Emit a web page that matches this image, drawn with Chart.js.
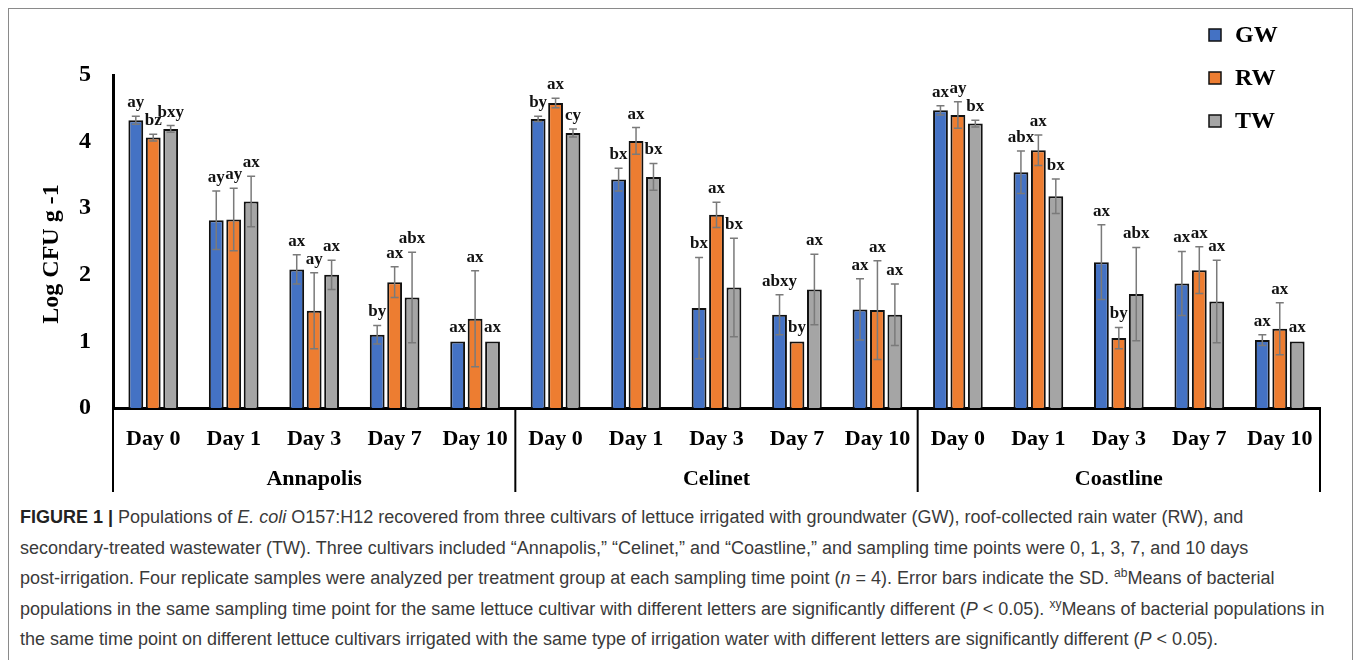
<!DOCTYPE html>
<html>
<head>
<meta charset="utf-8">
<script src="https://cdn.jsdelivr.net/npm/chart.js@4.4.1/dist/chart.umd.min.js"></script>
<style>
  body { margin: 0; background: #fff; width: 1358px; height: 660px; overflow: hidden; position: relative; }
  #frame { position: absolute; left: 8px; top: 8px; width: 1345px; height: 700px; border: 1.5px solid #8a8a8a; box-sizing: border-box; }
  #wrap { position: absolute; left: 0; top: 0; width: 1358px; height: 500px; }
  #caption { position: absolute; left: 20px; top: 502px; font-family: "Liberation Sans", Arial, sans-serif; font-size: 18px; line-height: 30.5px; color: #3a3a3a; white-space: nowrap; }
  #caption b { color: #222; }
  #caption sup { font-size: 12px; line-height: 0; }
</style>
</head>
<body>
<div id="frame"></div>
<div id="wrap"><canvas id="bacteriaChart"></canvas></div>
<div id="caption">
<b>FIGURE 1 |</b> Populations of <i>E. coli</i> O157:H12 recovered from three cultivars of lettuce irrigated with groundwater (GW), roof-collected rain water (RW), and<br>
secondary-treated wastewater (TW). Three cultivars included “Annapolis,” “Celinet,” and “Coastline,” and sampling time points were 0, 1, 3, 7, and 10 days<br>
post-irrigation. Four replicate samples were analyzed per treatment group at each sampling time point (<i>n</i> = 4). Error bars indicate the SD. <sup>ab</sup>Means of bacterial<br>
populations in the same sampling time point for the same lettuce cultivar with different letters are significantly different (<i>P</i> &lt; 0.05). <sup>xy</sup>Means of bacterial populations in<br>
the same time point on different lettuce cultivars irrigated with the same type of irrigation water with different letters are significantly different (<i>P</i> &lt; 0.05).
</div>
<script>
const days = ['Day 0', 'Day 1', 'Day 3', 'Day 7', 'Day 10'];
const cultivars = ['Annapolis', 'Celinet', 'Coastline'];

// means and SD, order: Annapolis d0..d10, Celinet d0..d10, Coastline d0..d10
const gwMeans = [4.32, 2.82, 2.08, 1.10, 1.00, 4.34, 3.43, 1.50, 1.40, 1.48, 4.47, 3.54, 2.19, 1.87, 1.02];
const gwSD    = [0.06, 0.44, 0.22, 0.14, 0.00, 0.04, 0.17, 0.76, 0.30, 0.46, 0.07, 0.32, 0.56, 0.48, 0.08];
const rwMeans = [4.06, 2.83, 1.46, 1.89, 1.34, 4.58, 4.01, 2.90, 1.00, 1.47, 4.40, 3.87, 1.05, 2.07, 1.19];
const rwSD    = [0.05, 0.47, 0.57, 0.23, 0.72, 0.07, 0.20, 0.19, 0.00, 0.74, 0.20, 0.23, 0.16, 0.35, 0.39];
const twMeans = [4.19, 3.10, 2.00, 1.66, 1.00, 4.13, 3.47, 1.81, 1.78, 1.40, 4.27, 3.18, 1.71, 1.60, 1.00];
const twSD    = [0.05, 0.38, 0.22, 0.68, 0.00, 0.06, 0.20, 0.74, 0.53, 0.46, 0.05, 0.26, 0.70, 0.62, 0.00];

const gwLetters = ['ay', 'ay', 'ax', 'by', 'ax', 'by', 'bx', 'bx', 'abxy', 'ax', 'ax', 'abx', 'ax', 'ax', 'ax'];
const rwLetters = ['bz', 'ay', 'ay', 'ax', 'ax', 'ax', 'ax', 'ax', 'by', 'ax', 'ay', 'ax', 'by', 'ax', 'ax'];
const twLetters = ['bxy', 'ax', 'ax', 'abx', 'ax', 'cy', 'bx', 'bx', 'ax', 'ax', 'bx', 'bx', 'abx', 'ax', 'ax'];

const yTicks = [0, 1, 2, 3, 4, 5];

const labels = [];
cultivars.forEach(() => days.forEach(d => labels.push(d)));

const serif = '"Liberation Serif", "Times New Roman", serif';

// error bars, significance letters, group labels, legend
const errorBarPlugin = {
    id: 'errorBars',
    afterDatasetsDraw(chart) {
        const ctx = chart.ctx;
        const yScale = chart.scales.y;
        chart.data.datasets.forEach((ds, i) => {
            const meta = chart.getDatasetMeta(i);
            meta.data.forEach((bar, j) => {
                const m = ds.data[j];
                const sd = ds.sd[j];
                const top = yScale.getPixelForValue(m + sd);
                const bot = yScale.getPixelForValue(m - sd);
                ctx.save();
                if (sd > 0) {
                    ctx.strokeStyle = '#7a7a7a';
                    ctx.lineWidth = 1.5;
                    ctx.beginPath();
                    ctx.moveTo(bar.x, top); ctx.lineTo(bar.x, bot);
                    ctx.moveTo(bar.x - 4, top); ctx.lineTo(bar.x + 4, top);
                    ctx.moveTo(bar.x - 4, bot); ctx.lineTo(bar.x + 4, bot);
                    ctx.stroke();
                }
                ctx.fillStyle = '#111';
                ctx.font = 'bold 17px ' + serif;
                ctx.textAlign = 'center';
                ctx.textBaseline = 'bottom';
                ctx.fillText(ds.letters[j], bar.x, Math.min(top, bar.y) - 5);
                ctx.restore();
            });
        });
    },
    afterDraw(chart) {
        const ctx = chart.ctx;
        const area = chart.chartArea;
        const xScale = chart.scales.x;
        const n = days.length;
        ctx.save();
        ctx.strokeStyle = '#000';
        ctx.lineWidth = 2;
        for (let g = 0; g <= cultivars.length; g++) {
            const x = area.left + (area.right - area.left) * g / cultivars.length;
            ctx.beginPath();
            ctx.moveTo(x, area.bottom); ctx.lineTo(x, area.bottom + 84);
            ctx.stroke();
        }
        ctx.fillStyle = '#000';
        ctx.font = 'bold 22px ' + serif;
        ctx.textAlign = 'center';
        ctx.textBaseline = 'middle';
        cultivars.forEach((c, g) => {
            const x0 = xScale.getPixelForValue(g * n);
            const x1 = xScale.getPixelForValue(g * n + n - 1);
            ctx.fillText(c, (x0 + x1) / 2, area.bottom + 71);
        });
        // y title
        ctx.save();
        ctx.translate(52, 254);
        ctx.rotate(-Math.PI / 2);
        ctx.font = 'bold 24px ' + serif;
        ctx.fillText('Log CFU g -1', 0, 0);
        ctx.restore();
        // legend
        ctx.font = 'bold 24px ' + serif;
        ctx.textAlign = 'left';
        chart.data.datasets.forEach((ds, i) => {
            const cy = 35 + i * 43;
            ctx.fillStyle = ds.backgroundColor;
            ctx.fillRect(1209, cy - 6, 12, 12);
            ctx.strokeStyle = '#111';
            ctx.lineWidth = 1.5;
            ctx.strokeRect(1209, cy - 6, 12, 12);
            ctx.fillStyle = '#000';
            ctx.fillText(ds.label, 1235, cy + 1);
        });
        ctx.restore();
    }
};

function makeSet(label, means, sd, letters, color) {
    return {
        label: label,
        data: means,
        sd: sd,
        letters: letters,
        backgroundColor: color,
        borderColor: '#111',
        borderWidth: 2,
        borderSkipped: 'bottom',
        categoryPercentage: 0.65,
        barPercentage: 0.85
    };
}

new Chart(document.getElementById('bacteriaChart').getContext('2d'), {
    type: 'bar',
    data: {
        labels: labels,
        datasets: [
            makeSet('GW', gwMeans, gwSD, gwLetters, '#4472C4'),
            makeSet('RW', rwMeans, rwSD, rwLetters, '#ED7D31'),
            makeSet('TW', twMeans, twSD, twLetters, '#A5A5A5')
        ]
    },
    options: {
        responsive: true,
        maintainAspectRatio: false,
        animation: false,
        layout: { padding: { top: 75, right: 38, left: 0, bottom: 0 } },
        plugins: {
            legend: { display: false },
            tooltip: { enabled: false }
        },
        scales: {
            x: {
                grid: { display: false, drawTicks: false },
                border: { color: '#000', width: 3 },
                ticks: {
                    color: '#000',
                    font: { family: serif, size: 22, weight: 'bold' },
                    padding: 18,
                    maxRotation: 0,
                    autoSkip: false
                },
                afterFit(scale) { scale.height = 92; }
            },
            y: {
                min: 0,
                max: 5,
                afterBuildTicks(scale) { scale.ticks = yTicks.map(v => ({ value: v })); },
                grid: { display: false, drawTicks: false },
                border: { color: '#000', width: 3 },
                ticks: {
                    color: '#000',
                    font: { family: serif, size: 24, weight: 'bold' },
                    padding: 22
                },
                afterFit(scale) { scale.width = 113; }
            }
        }
    },
    plugins: [errorBarPlugin]
});
</script>
</body>
</html>
